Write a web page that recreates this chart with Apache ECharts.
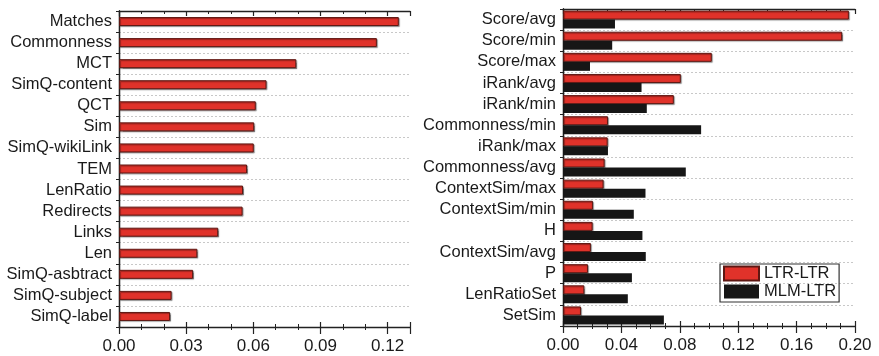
<!DOCTYPE html>
<html>
<head>
<meta charset="utf-8">
<script src="https://cdn.jsdelivr.net/npm/echarts@6/dist/echarts.min.js"></script>
<style>
html,body{margin:0;padding:0;background:#fff;}
#chart{width:879px;height:356px;}
</style>
</head>
<body>
<div id="chart"></div>
<script>
// ---- data ----
const leftCategories = ['Matches','Commonness','MCT','SimQ-content','QCT','Sim','SimQ-wikiLink','TEM','LenRatio','Redirects','Links','Len','SimQ-asbtract','SimQ-subject','SimQ-label'];
const leftValues = [0.125,0.1152,0.0792,0.0659,0.0611,0.0604,0.0602,0.0572,0.0554,0.0552,0.0443,0.0350,0.0331,0.0235,0.0228];

const rightCategories = ['Score/avg','Score/min','Score/max','iRank/avg','iRank/min','Commonness/min','iRank/max','Commonness/avg','ContextSim/max','ContextSim/min','H','ContextSim/avg','P','LenRatioSet','SetSim'];
const ltrValues = [0.1958,0.1912,0.1019,0.0807,0.0759,0.0308,0.0306,0.0285,0.0278,0.0205,0.0203,0.0191,0.0171,0.0146,0.0123];
const mlmValues = [0.0356,0.0337,0.0185,0.0538,0.0574,0.0946,0.0308,0.0841,0.0565,0.0485,0.0544,0.0567,0.0472,0.0444,0.0691];

const seriesNames = ['LTR-LTR','MLM-LTR'];
const leftAxis = {min:0, max:0.13, interval:0.03};
const rightAxis = {min:0, max:0.20, interval:0.04};

// ---- styling ----
const FONT = '"Liberation Sans", Arial, Helvetica, sans-serif';
const AX = '#222';
const RED = '#e0322a';
const RED_BORDER = '#5e1712';
const BLACK = '#161616';

function isMultiple(a, b) { return Math.abs(a / b - Math.round(a / b)) < 1e-9; }

function xAxes(gridIndex, ax, minorSplit) {
  const base = {
    type:'value', gridIndex, min:ax.min, max:ax.max, interval:ax.interval,
    splitLine:{show:false}
  };
  return [
    Object.assign({}, base, {
      position:'bottom',
      axisLine:{show:true, lineStyle:{color:AX, width:1.3}},
      axisTick:{show:true, inside:false, length:7, lineStyle:{color:AX, width:1.2}},
      minorTick:{show:true, splitNumber:minorSplit, length:3, lineStyle:{color:AX, width:1}},
      axisLabel:{show:true, color:'#1a1a1a', fontFamily:FONT, fontSize:17, margin:11,
        showMaxLabel: isMultiple(ax.max, ax.interval),
        formatter:v => v.toFixed(2)}
    }),
    Object.assign({}, base, {
      position:'bottom',
      axisLine:{show:false},
      axisTick:{show:true, inside:true, length:5, lineStyle:{color:AX, width:1.2}},
      minorTick:{show:true, splitNumber:minorSplit, length:3, lineStyle:{color:AX, width:1}},
      axisLabel:{show:false}
    }),
    Object.assign({}, base, {
      position:'top',
      axisLine:{show:true, lineStyle:{color:AX, width:1.3}},
      axisTick:{show:true, inside:true, length:5, lineStyle:{color:AX, width:1.2}},
      minorTick:{show:true, splitNumber:minorSplit, length:3, lineStyle:{color:AX, width:1}},
      axisLabel:{show:false}
    })
  ];
}

function yAxes(gridIndex, cats) {
  return [
    {
      type:'category', gridIndex, data:cats, inverse:true, position:'left',
      axisLine:{show:true, lineStyle:{color:AX, width:1.3}},
      axisTick:{show:false},
      axisLabel:{interval:0, color:'#1a1a1a', fontFamily:FONT, fontSize:16.5, margin:7},
      splitLine:{show:true, interval:0, lineStyle:{color:'#c8c8c8', type:[2,2], width:1}}
    },
    {
      type:'category', gridIndex, data:cats, inverse:true, position:'right',
      axisLine:{show:true, lineStyle:{color:AX, width:1.3}},
      axisTick:{show:true, interval:0, inside:true, length:3, lineStyle:{color:AX, width:1}},
      axisLabel:{show:false, interval:0},
      splitLine:{show:false}
    }
  ];
}

const barShadow = {shadowColor:'rgba(0,0,0,0.35)', shadowBlur:1, shadowOffsetX:1, shadowOffsetY:1};

const chart = echarts.init(document.getElementById('chart'), null, {renderer:'canvas'});
chart.setOption({
  animation:false,
  backgroundColor:'#fff',
  textStyle:{fontFamily:FONT},
  grid:[
    {left:119, right:469, top:11, bottom:29, containLabel:false},
    {left:563, right:24, top:9, bottom:30, containLabel:false}
  ],
  xAxis: xAxes(0, leftAxis, 3).concat(xAxes(1, rightAxis, 4)),
  yAxis: yAxes(0, leftCategories).concat(yAxes(1, rightCategories)),
  legend:{
    data:seriesNames,
    orient:'vertical', left:720, top:264,
    itemWidth:35, itemHeight:14, itemGap:1, itemTextGap:3,
    padding:[1,3,2,3],
    borderColor:'#333', borderWidth:1.2,
    icon:'rect',
    textStyle:{color:'#1a1a1a', fontFamily:FONT, fontSize:16.5}
  },
  series:[
    {
      type:'bar', name:'left', xAxisIndex:0, yAxisIndex:0,
      data:leftValues, barWidth:9,
      itemStyle:Object.assign({color:RED, borderColor:RED_BORDER, borderWidth:1}, barShadow)
    },
    {
      type:'bar', name:seriesNames[0], xAxisIndex:3, yAxisIndex:2,
      data:ltrValues, barWidth:9, barGap:'0%',
      itemStyle:Object.assign({color:RED, borderColor:RED_BORDER, borderWidth:1}, barShadow)
    },
    {
      type:'bar', name:seriesNames[1], xAxisIndex:3, yAxisIndex:2,
      data:mlmValues, barWidth:9, barGap:'0%',
      itemStyle:{color:BLACK, borderColor:BLACK, borderWidth:0}
    }
  ]
});
</script>
</body>
</html>
